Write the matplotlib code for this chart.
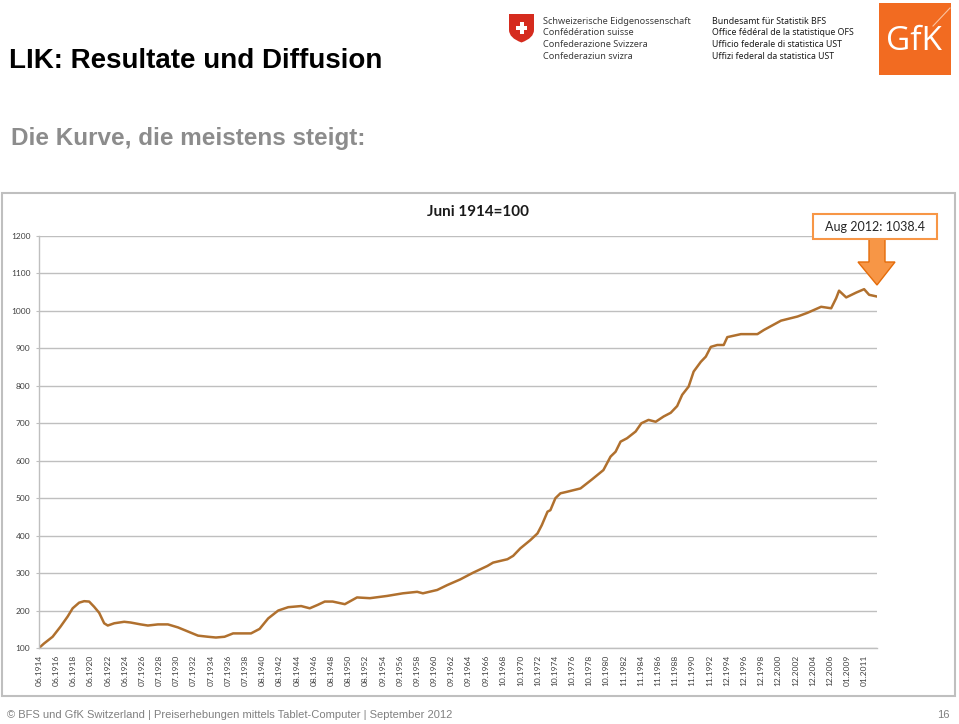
import matplotlib.pyplot as plt
from matplotlib.patches import Rectangle, Polygon, PathPatch
from matplotlib.path import Path

plt.rcParams['font.family'] = ['Lato', 'DejaVu Sans']

# category labels shown on the x axis (every 24th data point)
x_labels = ["06.1914", "06.1916", "06.1918", "06.1920", "06.1922", "06.1924",
            "07.1926", "07.1928", "07.1930", "07.1932", "07.1934", "07.1936", "07.1938",
            "08.1940", "08.1942", "08.1944", "08.1946", "08.1948", "08.1950", "08.1952",
            "09.1954", "09.1956", "09.1958", "09.1960", "09.1962", "09.1964", "09.1966",
            "10.1968", "10.1970", "10.1972", "10.1974", "10.1976", "10.1978", "10.1980",
            "11.1982", "11.1984", "11.1986", "11.1988", "11.1990", "11.1992",
            "12.1994", "12.1996", "12.1998", "12.2000", "12.2002", "12.2004", "12.2006",
            "01.2009", "01.2011"]

# index (Juni 1914 = 100) at selected category positions
months = [0, 7, 19, 30, 40, 47, 56, 63, 70, 77, 84, 91, 96, 105, 119, 128, 142, 152,
          166, 180, 194, 208, 222, 236, 247, 259, 271, 282, 296, 308, 320, 334, 348,
          366, 378, 389, 399, 410, 427, 444, 462, 486, 508, 528, 536, 556, 570, 588,
          606, 626, 634, 654, 662, 672, 686, 696, 702, 710, 714, 721, 728, 737, 756,
          772, 788, 798, 805, 812, 821, 833, 841, 851, 861, 872, 882, 891, 898, 907,
          914, 924, 931, 938, 947, 956, 961, 980, 1003, 1012, 1036, 1059, 1073, 1092,
          1106, 1113, 1117, 1127, 1141, 1152, 1159, 1170]
lik = [100, 112, 130, 157, 184, 206, 221, 225, 224, 210, 194, 166, 160, 166, 170, 168,
       163, 160, 163, 163, 155, 144, 133, 130, 128, 130, 139, 139, 139, 151, 179, 200,
       209, 212, 206, 215, 224, 224, 217, 235, 233, 239, 246, 250, 246, 255, 268, 283,
       301, 319, 328, 337, 346, 366, 388, 406, 428, 464, 468, 500, 513, 517, 526,
       550, 575, 611, 624, 651, 660, 678, 700, 709, 704, 718, 728, 746, 776, 798,
       838, 864, 878, 904, 909, 909, 930, 938, 938, 949, 974, 985, 995, 1011,
       1007, 1034, 1054, 1036, 1049, 1058, 1043, 1038.4]

W, H = 959, 724
fig = plt.figure(figsize=(W / 100, H / 100), dpi=100)

# ---- chart ----
ax = fig.add_axes([39 / W, 1 - 648 / H, 838 / W, 412 / H])
ax.patch.set_alpha(0)
ax.plot(months, lik, color='#B0702E', lw=1.8, solid_joinstyle='round')
ax.set_xlim(0, 1170)
ax.set_ylim(100, 1200)
ax.set_yticks(range(100, 1201, 100))
ax.set_xticks(range(0, 24 * len(x_labels), 24))
ax.set_xticklabels(x_labels, rotation=90, fontsize=6, color='#404040')
ax.tick_params(axis='x', length=0, pad=5)
ax.tick_params(axis='y', length=2.2, color='#BFBFBF', labelsize=6,
               labelcolor='#404040', pad=4)
ax.grid(axis='y', color='#BFBFBF', lw=1)
ax.set_axisbelow(True)
for s in ['top', 'right']:
    ax.spines[s].set_visible(False)
for s in ['left', 'bottom']:
    ax.spines[s].set_color('#BFBFBF')
    ax.spines[s].set_linewidth(1)

# ---- page elements (pixel coordinates) ----
bg = fig.add_axes([0, 0, 1, 1])
bg.set_xlim(0, W)
bg.set_ylim(H, 0)
bg.axis('off')
bg.patch.set_alpha(0)

# chart frame
bg.add_patch(Rectangle((1.5, 192.5), 953.5, 503, fill=False, ec='#BFBFBF', lw=1.5))

bg.text(9, 68, "LIK: Resultate und Diffusion", fontsize=20, fontweight='bold',
        family='Liberation Sans', color='black', va='baseline')
bg.text(11, 145, "Die Kurve, die meistens steigt:", fontsize=17.5, fontweight='bold',
        family='Liberation Sans', color='#8C8C8C', va='baseline')

bg.text(478, 212, "Juni 1914=100", fontsize=11, fontweight='bold', color='#1A1A1A',
        ha='center', va='center')

# annotation box + arrow
bg.add_patch(Polygon([(869, 239), (885, 239), (885, 262), (895, 262), (877, 285),
                      (858, 262), (869, 262)], closed=True, fc='#F79646', ec='#E46C0A', lw=1))
bg.add_patch(Rectangle((813, 214), 124, 25, fc='white', ec='#F79646', lw=1.5))
bg.text(875, 227, "Aug 2012: 1038.4", fontsize=9, color='#262626', ha='center', va='center')

# Swiss shield
verts = [(509, 14), (534, 14), (534, 30), (534, 38), (521.5, 42.5),
         (509, 38), (509, 30), (509, 14)]
codes = [Path.MOVETO, Path.LINETO, Path.LINETO, Path.CURVE3, Path.CURVE3,
         Path.CURVE3, Path.CURVE3, Path.CLOSEPOLY]
bg.add_patch(PathPatch(Path(verts, codes), fc='#D52B1E', ec='none'))
bg.add_patch(Rectangle((516, 25.5), 11, 4.5, fc='white', ec='none'))
bg.add_patch(Rectangle((519.5, 22), 4, 11.5, fc='white', ec='none'))

conf = ["Schweizerische Eidgenossenschaft", "Confédération suisse",
        "Confederazione Svizzera", "Confederaziun svizra"]
bfs = ["Bundesamt für Statistik BFS", "Office fédéral de la statistique OFS",
       "Ufficio federale di statistica UST", "Uffizi federal da statistica UST"]
for i, (a, b) in enumerate(zip(conf, bfs)):
    y = 21 + i * 11.7
    bg.text(543, y, a, fontsize=6.6, family='Noto Sans', color='#3A3A3A', va='center')
    bg.text(712, y, b, fontsize=6.3, family='Noto Sans', fontweight='bold',
            color='#1A1A1A', va='center')

# GfK logo
bg.add_patch(Rectangle((879, 3), 72, 72, fc='#F26B21', ec='none'))
bg.plot([933, 950], [26, 8], color='#FBC3A0', lw=0.8)
bg.text(914, 42, "GfK", fontsize=24, color='white', ha='center', va='center',
        family='Open Sans')

# footer
bg.text(7, 715, "© BFS und GfK Switzerland | Preiserhebungen mittels Tablet-Computer | September 2012",
        fontsize=8, family='Liberation Sans', color='#808080', va='center')
bg.text(950, 715, "16", fontsize=8, family='Liberation Sans', color='#808080',
        ha='right', va='center')

fig.savefig('out.png', dpi=100)
